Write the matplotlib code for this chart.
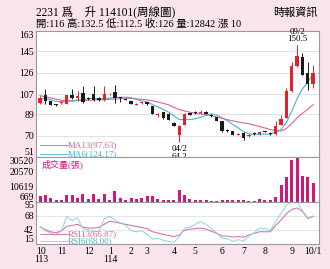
import matplotlib
matplotlib.use('Agg')
import matplotlib.pyplot as plt
import numpy as np

plt.rcParams['font.family'] = ['Liberation Serif', 'Noto Sans CJK TC']

# weekly candles, 2024/10 .. 2025/10/1
opens = [99, 106.5, 100.5, 97.8, 98.8, 98.5, 106.5, 103.5, 108, 102.9,
         107.1, 103.2, 101.4, 106.6, 108.5, 103.7, 102.9, 100.5, 97.6, 98.8,
         99.5, 96.1, 88.3, 90.7, 89.5, 81.3, 70.9, 79.8, 90.2, 90.4,
         90.5, 91.1, 88.7, 86.3, 82.7, 74.6, 73.8, 70.9, 72.4, 69.4,
         71.9, 71.5, 73.5, 72, 71.5, 79.8, 85.7, 109.4, 131.7, 140,
         125.5, 116]
highs = [105, 111.5, 101, 98.5, 100, 106.5, 111.5, 109.4, 114.5, 104,
         113.9, 104, 113.9, 108, 115.4, 104.5, 103.5, 101, 99, 100,
         100, 96.5, 90, 91, 90, 82, 79.5, 90.2, 90.5, 91.5,
         93, 91.5, 89, 86.5, 83, 75.5, 74, 72.5, 72.8, 71.5,
         72.8, 74, 73.8, 73, 82.7, 88, 112.4, 135.6, 150.5, 143.6,
         135.6, 132.5]
lows = [98, 98.5, 97, 96.5, 98, 98, 103, 100.5, 99, 101.5,
        101, 101, 101, 106, 99.1, 100, 101.5, 98, 97, 98.5,
        97.5, 89, 87, 84.5, 83.8, 78.5, 64.2, 79.5, 88.3, 89,
        89.5, 89, 86.8, 83, 73.5, 73, 70.5, 70.5, 66.5, 69,
        70.8, 71, 72.8, 70.8, 71, 79.5, 85.5, 109, 131, 123.5,
        111, 112.5]
closes = [103.5, 100.5, 97.6, 97.4, 99.4, 105.9, 103.5, 105.6, 99.6, 102.5,
          101.4, 101.4, 107.4, 107.3, 103.5, 103.3, 102, 98.5, 98.5, 99.4,
          98, 89.3, 89.1, 85.5, 84.2, 78.9, 78.9, 89.3, 88.7, 90,
          91.3, 89.3, 87.2, 83.3, 73.8, 74.2, 70.9, 71.8, 67.5, 70.9,
          71.6, 73.3, 73, 71.7, 78.3, 84.9, 109.4, 131.7, 140.6, 124.3,
          116, 126]
volumes = [4060, 4740, 2900, 1820, 1820, 4740, 5210, 2900, 5620, 2230,
           5620, 2500, 5620, 1820, 7450, 2900, 1820, 2900, 2230, 2900,
           4060, 4060, 2230, 1820, 1820, 1820, 8330, 4740, 2500, 1350,
           1820, 1350, 870, 870, 1350, 1350, 1550, 1350, 1550, 1140,
           870, 2030, 1550, 1350, 3580, 12000, 17150, 28470, 30520, 17830,
           17150, 12842]
ma13 = [105.5, 104.5, 103.5, 102.5, 101.5, 100.8, 101, 101.2, 101.3, 101.5,
        101.6, 101.8, 102, 102.3, 102.5, 102.9, 103.3, 103.2, 102.7, 102.3,
        101.8, 101, 99.9, 98.7, 97.4, 95.2, 93, 91.9, 90.8, 89.9,
        89.3, 88.6, 87.7, 86.5, 85.3, 84.2, 83.1, 82.1, 81.2, 80.6,
        79.3, 78.1, 76.8, 75.3, 74.4, 74.2, 76.3, 80.7, 85.8, 89.9,
        93.3, 97.63]
ma6 = [103, 102.8, 101.8, 100.5, 100.2, 100.7, 100.7, 101.6, 101.9, 102.8,
       103.1, 102.3, 103, 103.3, 103.9, 104.1, 104.2, 103.7, 102.2, 100.9,
       100, 97.6, 95.5, 93.3, 90.9, 87.5, 84.3, 84.3, 84.3, 85,
       86.2, 87.9, 89.3, 88.3, 85.8, 83.2, 79.8, 76.9, 73.6, 71.5,
       71.2, 71, 71.4, 71.3, 73.1, 75.5, 81.8, 91.5, 102.8, 111.5,
       117.8, 124.17]
rsi6 = [48, 40, 35, 32, 40, 67, 59, 64, 44, 42,
        38, 39, 62, 67, 60, 55, 50, 40, 38, 40,
        33, 24, 26, 22, 20, 18, 28, 45, 47, 52,
        57, 52, 44, 36, 26, 25, 20, 23, 20, 30,
        36, 45, 44, 40, 58, 72, 88, 94, 94, 78,
        64, 68.0]
rsi13 = [47, 42, 38, 36, 40, 48, 50, 52, 47, 45,
         45, 46, 52, 58, 56, 54, 52, 50, 48, 46,
         44, 38, 36, 33, 31, 29, 32, 41, 43, 44,
         45, 43, 39, 35, 30, 30, 28, 29, 28, 32,
         35, 38, 38, 38, 50, 60, 72, 80, 83, 76,
         63, 66.87]

month_pos = [0.2, 4.1, 9.2, 13.1, 17, 20, 25, 29, 34, 38, 42, 47, 51]
month_labels = ['10\n113', '11', '12', '1\n114', '2', '3', '4', '5', '6', '7', '8', '9', '10/1']
price_ticks = [51, 70, 89, 107, 126, 145, 163]
vol_ticks = [669, 10619, 20570, 30520]
rsi_ticks = [15, 42, 68, 95]

RED = '#e4202a'
BLACK = '#1a1a1a'
PINK = '#d4649c'
CYAN = '#45b1cc'
CYAN2 = '#8ad3e3'
VOLC = '#d0187a'
BG = '#f9e3ec'
SPINE = '#9a9a9a'
GRID = '#e2e2e2'

W, H = 330, 269
fig = plt.figure(figsize=(W / 100, H / 100), dpi=100, facecolor=BG)

def box(x0, y0, x1, y1):
    return [x0 / W, 1 - y1 / H, (x1 - x0) / W, (y1 - y0) / H]

ax1 = fig.add_axes(box(36, 31, 318.5, 157))
ax2 = fig.add_axes(box(36, 157, 318.5, 201.5), sharex=ax1)
ax3 = fig.add_axes(box(36, 201.5, 318.5, 244), sharex=ax1)

x = np.arange(len(closes))
o = np.array(opens)
c = np.array(closes)
up = c >= o
cols = np.where(up, RED, BLACK)

def yticks(ax, ticks):
    ax.set_yticks(ticks)
    labs = ax.set_yticklabels([str(t) for t in ticks])
    # keep the end labels inside the panel, like the source
    labs[0].set_verticalalignment('bottom')
    labs[-1].set_verticalalignment('top')

for ax in (ax1, ax2, ax3):
    ax.set_facecolor('white')
    for s in ax.spines.values():
        s.set_color(SPINE)
        s.set_linewidth(0.8)
    ax.tick_params(axis='y', length=0, pad=1.5, labelsize=7)
    ax.tick_params(axis='x', length=0)

# price panel
ax1.vlines(x, lows, highs, colors=cols, linewidth=0.7, zorder=3)
body_lo = np.minimum(o, c)
body_h = np.maximum(np.abs(c - o), 0.7)
ax1.bar(x, body_h, bottom=body_lo, width=0.62, color=cols, zorder=4)
ax1.plot(x, ma13, color=PINK, linewidth=0.8, zorder=2)
ax1.plot(x, ma6, color=CYAN, linewidth=0.8, zorder=2)
ax1.set_ylim(51, 163)
yticks(ax1, price_ticks)
ax1.grid(axis='y', color=GRID, linewidth=0.7)
ax1.set_axisbelow(True)
ax1.set_xlim(-0.75, 52.0)
plt.setp(ax1.get_xticklabels(), visible=False)

lo_i = int(np.argmin(lows))
hi_i = int(np.argmax(highs))
ax1.text(lo_i, lows[lo_i] - 2.5, '04/2\n64.2', ha='center', va='top', fontsize=6.5, linespacing=0.95)
ax1.text(hi_i, highs[hi_i] + 1.5, '09/2\n150.5', ha='center', va='bottom', fontsize=6.5, linespacing=0.95)

ax1.plot([0, 5.2], [61.5, 61.5], color=PINK, linewidth=0.6)
ax1.plot([0, 5.2], [53.5, 53.5], color=CYAN, linewidth=0.6)
ax1.text(5.2, 61.5, 'MA13(%.2f)' % ma13[-1], color=PINK, fontsize=6.5, va='center')
ax1.text(5.2, 53.5, 'MA6(%.2f)' % ma6[-1], color=CYAN, fontsize=6.5, va='center')

# volume panel
ax2.bar(x, volumes, width=0.56, color=VOLC)
ax2.set_ylim(669, 30520)
yticks(ax2, vol_ticks)
plt.setp(ax2.get_xticklabels(), visible=False)
ax2.text(0.02, 0.95, '成交量(張)', transform=ax2.transAxes,
         color=VOLC, fontsize=6.5, va='top')

# rsi panel
ax3.plot(x, rsi13, color=PINK, linewidth=0.7)
ax3.plot(x, rsi6, color=CYAN2, linewidth=0.7)
ax3.set_ylim(15, 95)
yticks(ax3, rsi_ticks)
ax3.grid(axis='y', color=GRID, linewidth=0.6)
ax3.set_axisbelow(True)
ax3.plot([0, 5.2], [34, 34], color=PINK, linewidth=0.6)
ax3.plot([0, 5.2], [20, 20], color=CYAN2, linewidth=0.6)
ax3.text(5.2, 34, 'RSI13(%.2f)' % rsi13[-1], color=PINK, fontsize=6.5, va='center')
ax3.text(5.2, 20, 'RSI6(%.2f)' % rsi6[-1], color=CYAN, fontsize=6.5, va='center')
ax3.set_xticks(month_pos)
ax3.set_xticklabels(month_labels, fontsize=7, va='top', linespacing=0.95)
ax3.tick_params(axis='x', pad=2)

# header
fig.text(36 / W, 1 - 12 / H, '2231 爲　升 114101(周線圖)', fontsize=8.3, va='center')
fig.text(36 / W, 1 - 23.5 / H, '開:116 高:132.5 低:112.5 收:126 量:12842 漲 10', fontsize=7.5, va='center')
fig.text(318 / W, 1 - 12.5 / H, '時報資訊', fontsize=8, va='center', ha='right')

fig.savefig('out.png', dpi=100, facecolor=BG)
